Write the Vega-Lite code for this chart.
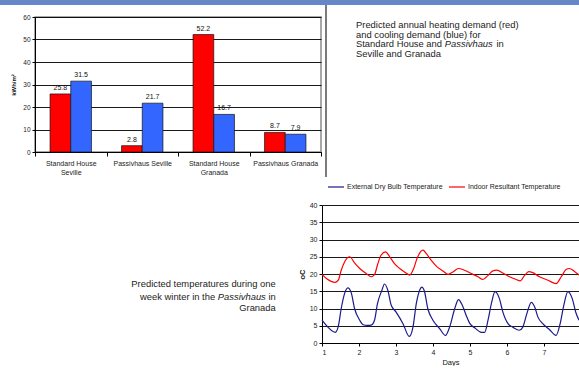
{
  "$schema": "https://vega.github.io/schema/vega-lite/v6.json",
  "padding": 0,
  "background": "white",
  "config": {
    "font": "Liberation Sans",
    "view": {"stroke": null},
    "axis": {
      "labelColor": "#222",
      "titleColor": "#111",
      "domainColor": "#000",
      "tickColor": "#000",
      "gridColor": "#000",
      "labelFont": "Liberation Sans",
      "titleFont": "Liberation Sans"
    },
    "legend": {"labelFont": "Liberation Sans"},
    "text": {"font": "Liberation Sans", "color": "#222"}
  },
  "resolve": {"scale": {"color": "independent"}, "legend": {"color": "independent"}},
  "columns": 3,
  "align": "each",
  "bounds": "flush",
  "spacing": {"row": 0, "column": 0},
  "concat": [
    {"width": 35, "height": 5, "view": {"fill": "#6688c8"}, "data": {"values": []}, "mark": "rect"},
    {"width": 287, "height": 5, "view": {"fill": "#6688c8"}, "data": {"values": []}, "mark": "rect"},
    {"width": 257, "height": 5, "view": {"fill": "#6688c8"}, "data": {"values": []}, "mark": "rect"},

    {"width": 35, "height": 12, "data": {"values": []}, "mark": "rect"},
    {"width": 287, "height": 12, "data": {"values": []}, "mark": "rect"},
    {
      "width": 257,
      "height": 12,
      "data": {"values": [{}]},
      "mark": {"type": "rule", "color": "#222", "strokeWidth": 1.2},
      "encoding": {"x": {"value": 4}}
    },

    {"width": 35, "height": 135, "data": {"values": []}, "mark": "rect"},
    {
      "width": 286,
      "height": 135,
      "view": {"stroke": "#8c8c8c", "strokeWidth": 1.5},
      "data": {
        "values": [
          {"building": "Standard House Seville", "demand": "Heating", "kwh": 25.8},
          {"building": "Standard House Seville", "demand": "Cooling", "kwh": 31.5},
          {"building": "Passivhaus Seville", "demand": "Heating", "kwh": 2.8},
          {"building": "Passivhaus Seville", "demand": "Cooling", "kwh": 21.7},
          {"building": "Standard House Granada", "demand": "Heating", "kwh": 52.2},
          {"building": "Standard House Granada", "demand": "Cooling", "kwh": 16.7},
          {"building": "Passivhaus Granada", "demand": "Heating", "kwh": 8.7},
          {"building": "Passivhaus Granada", "demand": "Cooling", "kwh": 7.9}
        ]
      },
      "encoding": {
        "x": {
          "field": "building",
          "type": "nominal",
          "sort": null,
          "scale": {"paddingInner": 0, "paddingOuter": 0},
          "axis": {
            "title": null,
            "labelAngle": 0,
            "tickBand": "extent",
            "tickSize": 4,
            "labelPadding": 3,
            "labelFontSize": 7,
            "labelLineHeight": 9.4,
            "labelBaseline": "top",
            "labelExpr": "indexof(datum.label, 'Standard House') == 0 ? ['Standard House', slice(datum.label, 15)] : datum.label"
          }
        },
        "xOffset": {
          "field": "demand",
          "type": "nominal",
          "sort": ["Heating", "Cooling"],
          "scale": {"paddingInner": 0, "paddingOuter": 0.727}
        },
        "y": {
          "field": "kwh",
          "type": "quantitative",
          "scale": {"domain": [0, 60], "nice": false},
          "axis": {
            "values": [0, 10, 20, 30, 40, 50, 60],
            "grid": true,
            "gridWidth": 0.9,
            "tickSize": 3,
            "labelPadding": 2,
            "labelFontSize": 6.5,
            "title": "kWh/m²",
            "titleFontSize": 6,
            "titleFontWeight": "bold",
            "titlePadding": 6
          }
        }
      },
      "layer": [
        {
          "mark": {"type": "bar", "stroke": "#111", "strokeWidth": 0.7},
          "encoding": {
            "color": {
              "field": "demand",
              "type": "nominal",
              "scale": {"domain": ["Heating", "Cooling"], "range": ["#ff0000", "#3366ff"]},
              "legend": null
            }
          }
        },
        {
          "mark": {"type": "text", "baseline": "bottom", "dy": -3, "fontSize": 7, "color": "#111"},
          "encoding": {"text": {"field": "kwh", "type": "quantitative", "format": ".1f"}}
        }
      ]
    },
    {
      "width": 257,
      "height": 135,
      "layer": [
        {
          "data": {"values": [{}]},
          "mark": {"type": "rule", "color": "#222", "strokeWidth": 1.2},
          "encoding": {"x": {"value": 4}}
        },
        {
          "data": {"values": [{"caption": ["Predicted annual heating demand (red)", "and cooling demand (blue) for", "Standard House and", "Seville and Granada"]}]},
          "mark": {"type": "text", "align": "left", "baseline": "middle", "x": 34, "y": 8, "fontSize": 9.4, "lineHeight": 9.6},
          "encoding": {"text": {"field": "caption"}}
        },
        {
          "data": {"values": [{"caption": "Passivhaus"}]},
          "mark": {"type": "text", "align": "left", "baseline": "middle", "x": 122.8, "y": 27.2, "fontSize": 9.4, "fontStyle": "italic"},
          "encoding": {"text": {"field": "caption"}}
        },
        {
          "data": {"values": [{"caption": "in"}]},
          "mark": {"type": "text", "align": "left", "baseline": "middle", "x": 174.5, "y": 27.2, "fontSize": 9.4},
          "encoding": {"text": {"field": "caption"}}
        }
      ]
    },

    {"width": 35, "height": 25, "data": {"values": []}, "mark": "rect"},
    {"width": 287, "height": 25, "data": {"values": []}, "mark": "rect"},
    {
      "width": 257,
      "height": 25,
      "data": {"values": [{}]},
      "mark": {"type": "rule", "color": "#222", "strokeWidth": 1.2},
      "encoding": {"x": {"value": 4}}
    },

    {"width": 35, "height": 28, "data": {"values": []}, "mark": "rect"},
    {"width": 287, "height": 28, "data": {"values": []}, "mark": "rect"},
    {"width": 257, "height": 28, "data": {"values": []}, "mark": "rect"},

    {"width": 35, "height": 138, "data": {"values": []}, "mark": "rect"},
    {
      "width": 287,
      "height": 138,
      "layer": [
        {
          "data": {"values": [{"caption": "Predicted temperatures during one"}]},
          "mark": {"type": "text", "align": "right", "baseline": "middle", "x": 240.7, "y": 79.3, "fontSize": 9.4},
          "encoding": {"text": {"field": "caption"}}
        },
        {
          "data": {"values": [{"caption": "week winter in the"}]},
          "mark": {"type": "text", "align": "right", "baseline": "middle", "x": 180.1, "y": 91.5, "fontSize": 9.4},
          "encoding": {"text": {"field": "caption"}}
        },
        {
          "data": {"values": [{"caption": "Passivhaus"}]},
          "mark": {"type": "text", "align": "right", "baseline": "middle", "x": 230.8, "y": 91.5, "fontSize": 9.4, "fontStyle": "italic"},
          "encoding": {"text": {"field": "caption"}}
        },
        {
          "data": {"values": [{"caption": "in"}]},
          "mark": {"type": "text", "align": "right", "baseline": "middle", "x": 240.7, "y": 91.5, "fontSize": 9.4},
          "encoding": {"text": {"field": "caption"}}
        },
        {
          "data": {"values": [{"caption": "Granada"}]},
          "mark": {"type": "text", "align": "right", "baseline": "middle", "x": 240.7, "y": 103.3, "fontSize": 9.4},
          "encoding": {"text": {"field": "caption"}}
        }
      ]
    },
    {
      "width": 257,
      "height": 138,
      "data": {
        "values": [
          {"series": "External Dry Bulb Temperature", "day": 1.0, "temp": 6.6},
          {"series": "External Dry Bulb Temperature", "day": 1.16, "temp": 4.6},
          {"series": "External Dry Bulb Temperature", "day": 1.36, "temp": 3.1},
          {"series": "External Dry Bulb Temperature", "day": 1.44, "temp": 4.8},
          {"series": "External Dry Bulb Temperature", "day": 1.52, "temp": 10},
          {"series": "External Dry Bulb Temperature", "day": 1.61, "temp": 14.3},
          {"series": "External Dry Bulb Temperature", "day": 1.70, "temp": 16},
          {"series": "External Dry Bulb Temperature", "day": 1.79, "temp": 14.6},
          {"series": "External Dry Bulb Temperature", "day": 1.88, "temp": 10},
          {"series": "External Dry Bulb Temperature", "day": 2.02, "temp": 6.6},
          {"series": "External Dry Bulb Temperature", "day": 2.11, "temp": 5.3},
          {"series": "External Dry Bulb Temperature", "day": 2.22, "temp": 5.1},
          {"series": "External Dry Bulb Temperature", "day": 2.33, "temp": 5.2},
          {"series": "External Dry Bulb Temperature", "day": 2.42, "temp": 6.6},
          {"series": "External Dry Bulb Temperature", "day": 2.5, "temp": 11.4},
          {"series": "External Dry Bulb Temperature", "day": 2.62, "temp": 15.3},
          {"series": "External Dry Bulb Temperature", "day": 2.69, "temp": 17.1},
          {"series": "External Dry Bulb Temperature", "day": 2.78, "temp": 15.3},
          {"series": "External Dry Bulb Temperature", "day": 2.87, "temp": 11},
          {"series": "External Dry Bulb Temperature", "day": 3.0, "temp": 9},
          {"series": "External Dry Bulb Temperature", "day": 3.19, "temp": 5.6},
          {"series": "External Dry Bulb Temperature", "day": 3.36, "temp": 1.9},
          {"series": "External Dry Bulb Temperature", "day": 3.46, "temp": 4.6},
          {"series": "External Dry Bulb Temperature", "day": 3.55, "temp": 11.4},
          {"series": "External Dry Bulb Temperature", "day": 3.64, "temp": 15.3},
          {"series": "External Dry Bulb Temperature", "day": 3.70, "temp": 16.2},
          {"series": "External Dry Bulb Temperature", "day": 3.77, "temp": 15},
          {"series": "External Dry Bulb Temperature", "day": 3.86, "temp": 10},
          {"series": "External Dry Bulb Temperature", "day": 4.0, "temp": 6.6},
          {"series": "External Dry Bulb Temperature", "day": 4.18, "temp": 4.2},
          {"series": "External Dry Bulb Temperature", "day": 4.34, "temp": 2.2},
          {"series": "External Dry Bulb Temperature", "day": 4.45, "temp": 4.6},
          {"series": "External Dry Bulb Temperature", "day": 4.59, "temp": 10},
          {"series": "External Dry Bulb Temperature", "day": 4.69, "temp": 12.6},
          {"series": "External Dry Bulb Temperature", "day": 4.8, "temp": 10.8},
          {"series": "External Dry Bulb Temperature", "day": 4.9, "temp": 8},
          {"series": "External Dry Bulb Temperature", "day": 5.0, "temp": 5.6},
          {"series": "External Dry Bulb Temperature", "day": 5.13, "temp": 4.4},
          {"series": "External Dry Bulb Temperature", "day": 5.31, "temp": 3.1},
          {"series": "External Dry Bulb Temperature", "day": 5.4, "temp": 3.1},
          {"series": "External Dry Bulb Temperature", "day": 5.49, "temp": 6.6},
          {"series": "External Dry Bulb Temperature", "day": 5.58, "temp": 11.4},
          {"series": "External Dry Bulb Temperature", "day": 5.68, "temp": 14.9},
          {"series": "External Dry Bulb Temperature", "day": 5.8, "temp": 12.8},
          {"series": "External Dry Bulb Temperature", "day": 5.89, "temp": 9},
          {"series": "External Dry Bulb Temperature", "day": 6.03, "temp": 5.6},
          {"series": "External Dry Bulb Temperature", "day": 6.16, "temp": 4.6},
          {"series": "External Dry Bulb Temperature", "day": 6.34, "temp": 3.7},
          {"series": "External Dry Bulb Temperature", "day": 6.43, "temp": 4.6},
          {"series": "External Dry Bulb Temperature", "day": 6.54, "temp": 8.5},
          {"series": "External Dry Bulb Temperature", "day": 6.66, "temp": 11.8},
          {"series": "External Dry Bulb Temperature", "day": 6.75, "temp": 10.5},
          {"series": "External Dry Bulb Temperature", "day": 6.84, "temp": 7.5},
          {"series": "External Dry Bulb Temperature", "day": 6.97, "temp": 5.6},
          {"series": "External Dry Bulb Temperature", "day": 7.15, "temp": 3.9},
          {"series": "External Dry Bulb Temperature", "day": 7.33, "temp": 2.2},
          {"series": "External Dry Bulb Temperature", "day": 7.44, "temp": 5.6},
          {"series": "External Dry Bulb Temperature", "day": 7.54, "temp": 11},
          {"series": "External Dry Bulb Temperature", "day": 7.65, "temp": 14.9},
          {"series": "External Dry Bulb Temperature", "day": 7.77, "temp": 12.8},
          {"series": "External Dry Bulb Temperature", "day": 7.86, "temp": 9},
          {"series": "External Dry Bulb Temperature", "day": 7.95, "temp": 6.6},
          {"series": "Indoor Resultant Temperature", "day": 1.0, "temp": 19.9},
          {"series": "Indoor Resultant Temperature", "day": 1.12, "temp": 18.7},
          {"series": "Indoor Resultant Temperature", "day": 1.36, "temp": 17.6},
          {"series": "Indoor Resultant Temperature", "day": 1.44, "temp": 18.2},
          {"series": "Indoor Resultant Temperature", "day": 1.52, "temp": 21.1},
          {"series": "Indoor Resultant Temperature", "day": 1.61, "temp": 23.5},
          {"series": "Indoor Resultant Temperature", "day": 1.75, "temp": 25},
          {"series": "Indoor Resultant Temperature", "day": 1.88, "temp": 23.2},
          {"series": "Indoor Resultant Temperature", "day": 2.02, "temp": 21.6},
          {"series": "Indoor Resultant Temperature", "day": 2.2, "temp": 20.1},
          {"series": "Indoor Resultant Temperature", "day": 2.33, "temp": 19.2},
          {"series": "Indoor Resultant Temperature", "day": 2.42, "temp": 19.8},
          {"series": "Indoor Resultant Temperature", "day": 2.5, "temp": 22.6},
          {"series": "Indoor Resultant Temperature", "day": 2.6, "temp": 25.5},
          {"series": "Indoor Resultant Temperature", "day": 2.72, "temp": 26.4},
          {"series": "Indoor Resultant Temperature", "day": 2.83, "temp": 25},
          {"series": "Indoor Resultant Temperature", "day": 2.96, "temp": 23},
          {"series": "Indoor Resultant Temperature", "day": 3.1, "temp": 21.6},
          {"series": "Indoor Resultant Temperature", "day": 3.23, "temp": 20.6},
          {"series": "Indoor Resultant Temperature", "day": 3.37, "temp": 19.7},
          {"series": "Indoor Resultant Temperature", "day": 3.48, "temp": 21.6},
          {"series": "Indoor Resultant Temperature", "day": 3.57, "temp": 24.5},
          {"series": "Indoor Resultant Temperature", "day": 3.73, "temp": 26.9},
          {"series": "Indoor Resultant Temperature", "day": 3.82, "temp": 25.9},
          {"series": "Indoor Resultant Temperature", "day": 3.95, "temp": 24},
          {"series": "Indoor Resultant Temperature", "day": 4.09, "temp": 22.3},
          {"series": "Indoor Resultant Temperature", "day": 4.27, "temp": 20.9},
          {"series": "Indoor Resultant Temperature", "day": 4.41, "temp": 19.9},
          {"series": "Indoor Resultant Temperature", "day": 4.54, "temp": 20.6},
          {"series": "Indoor Resultant Temperature", "day": 4.69, "temp": 21.6},
          {"series": "Indoor Resultant Temperature", "day": 4.85, "temp": 21.1},
          {"series": "Indoor Resultant Temperature", "day": 5.04, "temp": 20.1},
          {"series": "Indoor Resultant Temperature", "day": 5.22, "temp": 19.2},
          {"series": "Indoor Resultant Temperature", "day": 5.35, "temp": 18.4},
          {"series": "Indoor Resultant Temperature", "day": 5.49, "temp": 19.6},
          {"series": "Indoor Resultant Temperature", "day": 5.62, "temp": 20.9},
          {"series": "Indoor Resultant Temperature", "day": 5.73, "temp": 21.1},
          {"series": "Indoor Resultant Temperature", "day": 5.89, "temp": 20.3},
          {"series": "Indoor Resultant Temperature", "day": 6.07, "temp": 19.2},
          {"series": "Indoor Resultant Temperature", "day": 6.25, "temp": 18.4},
          {"series": "Indoor Resultant Temperature", "day": 6.36, "temp": 18},
          {"series": "Indoor Resultant Temperature", "day": 6.48, "temp": 19.6},
          {"series": "Indoor Resultant Temperature", "day": 6.59, "temp": 20.7},
          {"series": "Indoor Resultant Temperature", "day": 6.7, "temp": 20.4},
          {"series": "Indoor Resultant Temperature", "day": 6.88, "temp": 19.2},
          {"series": "Indoor Resultant Temperature", "day": 7.11, "temp": 18.2},
          {"series": "Indoor Resultant Temperature", "day": 7.33, "temp": 17.2},
          {"series": "Indoor Resultant Temperature", "day": 7.47, "temp": 19.2},
          {"series": "Indoor Resultant Temperature", "day": 7.6, "temp": 21.3},
          {"series": "Indoor Resultant Temperature", "day": 7.69, "temp": 21.6},
          {"series": "Indoor Resultant Temperature", "day": 7.82, "temp": 20.8},
          {"series": "Indoor Resultant Temperature", "day": 7.95, "temp": 19.7}
        ]
      },
      "mark": {"type": "line", "interpolate": "monotone", "strokeWidth": 1.2},
      "encoding": {
        "x": {
          "field": "day",
          "type": "quantitative",
          "scale": {"domain": [1, 7.95], "nice": false, "zero": false},
          "axis": {
            "values": [1, 2, 3, 4, 5, 6, 7],
            "format": "d",
            "grid": false,
            "tickSize": 3,
            "labelPadding": 2,
            "labelFontSize": 7,
            "title": "Days",
            "titleFontSize": 7.5,
            "titleFontWeight": "normal",
            "titlePadding": 3
          }
        },
        "y": {
          "field": "temp",
          "type": "quantitative",
          "scale": {"domain": [0, 40], "nice": false},
          "axis": {
            "values": [0, 5, 10, 15, 20, 25, 30, 35, 40],
            "grid": true,
            "gridWidth": 0.9,
            "tickSize": 3,
            "labelPadding": 2,
            "labelFontSize": 7,
            "title": "oC",
            "titleFontSize": 7.5,
            "titleFontWeight": "bold",
            "titlePadding": 3
          }
        },
        "color": {
          "field": "series",
          "type": "nominal",
          "scale": {
            "domain": ["External Dry Bulb Temperature", "Indoor Resultant Temperature"],
            "range": ["#1a1a8c", "#ff0000"]
          },
          "legend": {
            "orient": "none",
            "legendX": 5,
            "legendY": -27,
            "direction": "horizontal",
            "title": null,
            "padding": 0,
            "symbolType": "stroke",
            "symbolSize": 256,
            "symbolStrokeWidth": 1.2,
            "labelFontSize": 7,
            "labelColor": "#222",
            "labelOffset": 2,
            "columnPadding": 3
          }
        }
      }
    }
  ]
}
